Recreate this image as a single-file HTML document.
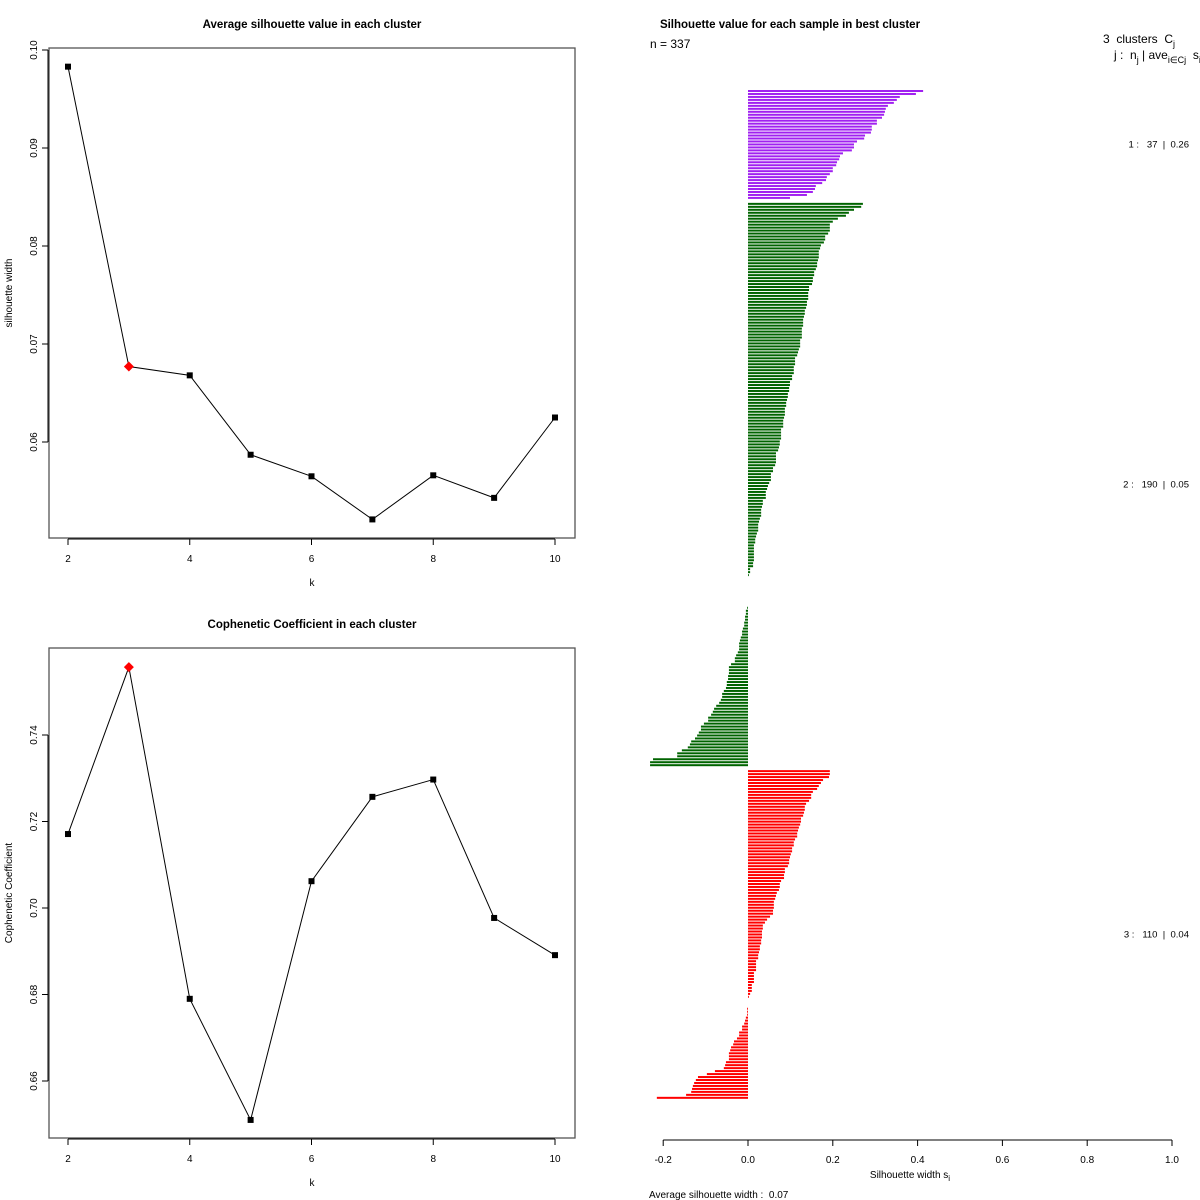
<!DOCTYPE html>
<html><head><meta charset="utf-8"><style>
html,body{margin:0;padding:0;background:#fff;}
svg{display:block;font-family:"Liberation Sans",sans-serif;}
text{white-space:pre;}
</style></head><body>
<svg id="chart" width="1200" height="1200" viewBox="0 0 1200 1200" xmlns="http://www.w3.org/2000/svg">
<rect width="1200" height="1200" fill="#fff"/>
</svg>
<script>
const ks = [2,3,4,5,6,7,8,9,10];
const silValues = [0.0983,0.0677,0.0668,0.0587,0.0565,0.0521,0.0566,0.0543,0.0625];
const silTicks = [0.06,0.07,0.08,0.09,0.10];
const silTickLabels = ["0.06","0.07","0.08","0.09","0.10"];
const cophValues = [0.7171,0.7557,0.6790,0.6510,0.7062,0.7257,0.7297,0.6977,0.6891];
const cophTicks = [0.66,0.68,0.70,0.72,0.74];
const cophTickLabels = ["0.66","0.68","0.70","0.72","0.74"];
const kTicks = [2,4,6,8,10];
const bestK = 3;
const cluster1 = [.413,.396,.358,.351,.344,.330,.325,.323,.321,.316,.304,.304,.292,.292,.290,.276,.274,.257,.250,.250,.245,.224,.217,.215,.210,.208,.200,.200,.193,.186,.184,.175,.160,.158,.153,.139,.099];
const cluster2 = [.271,.267,.250,.238,.231,.212,.200,.193,.193,.193,.189,.182,.182,.179,.172,.170,.167,.167,.167,.165,.163,.163,.160,.156,.156,.153,.153,.151,.144,.144,.142,.142,.142,.139,.139,.137,.134,.134,.132,.130,.130,.130,.127,.127,.127,.127,.123,.123,.123,.120,.118,.116,.111,.111,.111,.108,.108,.108,.104,.104,
.099,.099,.097,.097,.094,.094,.092,.090,.090,.087,.087,.087,.085,.083,.083,.083,.078,.078,.078,.078,.075,.075,.073,.071,.066,.066,.066,.066,.064,.059,.059,.054,.054,.054,.050,.047,.045,.042,.042,.042,.035,.035,.033,.031,.031,.031,.028,.026,.024,.024,.024,.021,.019,.017,.017,.014,.014,.014,.014,.014,.014,.012,.012,.005,.005,.002,
0,0,0,0,0,0,0,0,0,0,
-.002,-.005,-.005,-.007,-.007,-.009,-.009,-.012,-.014,-.014,-.017,-.019,-.021,-.021,-.021,-.024,-.028,-.031,-.031,-.040,-.045,-.045,-.045,-.047,-.047,-.050,-.050,-.052,-.057,-.061,-.061,-.064,-.068,-.075,-.080,-.083,-.087,-.094,-.094,-.104,-.111,-.111,-.116,-.120,-.125,-.134,-.137,-.142,-.156,-.167,-.167,-.224,-.231,-.231];
const cluster3 = [.193,.193,.191,.177,.172,.167,.163,.153,.149,.149,.144,.137,.134,.134,.132,.130,.125,.125,.123,.120,.118,.116,.116,.111,.108,.108,.104,.104,.101,.099,.097,.097,.094,.087,.087,.085,.085,.078,.075,.075,.073,.068,.066,.064,.061,.061,.061,.059,.059,.052,.045,.040,.035,.035,.033,.033,.033,.031,.031,.028,.028,.026,.024,.024,.019,.019,.019,.019,.014,.014,.014,.014,.009,.009,.009,.005,.002,
0,0,0,
-.002,-.002,-.002,-.005,-.007,-.009,-.014,-.014,-.021,-.021,-.026,-.033,-.035,-.040,-.042,-.045,-.045,-.045,-.052,-.054,-.057,-.078,-.097,-.118,-.123,-.127,-.130,-.132,-.134,-.146,-.215];
const clusterColors = ["#a020f0","#006400","#ff0000"];
const clusterAvgLabels = ["1 :   37  |  0.26","2 :   190  |  0.05","3 :   110  |  0.04"];
const silXTicks = [-0.2,0,0.2,0.4,0.6,0.8,1.0];
const silXTickLabels = ["-0.2","0.0","0.2","0.4","0.6","0.8","1.0"];

const svg = document.getElementById('chart');
const NS = "http://www.w3.org/2000/svg";
function mk(tag, attrs, parent){ const e=document.createElementNS(NS,tag); for(const k in attrs) e.setAttribute(k,attrs[k]); (parent||svg).appendChild(e); return e; }
function txt(s, attrs, parent){ const e=mk('text',attrs,parent); e.textContent=s; return e; }

function linePanel(name, top, values, ticks, tickLabels, yScale, title, ylab){
  const g = mk('g',{});
  
  
  const xS = k => 68 + (k-2)*60.875;
  const bottom = top + 490;
  const box = mk('rect',{x:49,y:top,width:526,height:490,fill:'none',stroke:'#555','stroke-width':1.3},g);
  
  
  const t = txt(title,{x:312,y:top-20,'text-anchor':'middle','font-size':11.5,'font-weight':'bold'},g);
  
  
  mk('line',{x1:xS(2),x2:xS(10),y1:bottom+1,y2:bottom+1,stroke:'#000'},g);
  kTicks.forEach(k=>{
    mk('line',{x1:xS(k),x2:xS(k),y1:bottom+1,y2:bottom+7,stroke:'#000'},g);
    const l = txt(String(k),{x:xS(k),y:bottom+24,'text-anchor':'middle','font-size':10},g);
    
    
  });
  const xl = txt('k',{x:312,y:bottom+48,'text-anchor':'middle','font-size':10},g);
  
  
  mk('line',{x1:48,x2:48,y1:yScale(ticks[0]),y2:yScale(ticks[ticks.length-1]),stroke:'#000'},g);
  ticks.forEach((v,i)=>{
    const y=yScale(v);
    mk('line',{x1:42,x2:48,y1:y,y2:y,stroke:'#000'},g);
    const l = txt(tickLabels[i],{x:37,y:y,'text-anchor':'middle','font-size':10,transform:`rotate(-90 37 ${y})`},g);
    
    
  });
  const yl = txt(ylab,{x:12,y:top+245,'text-anchor':'middle','font-size':10,transform:`rotate(-90 12 ${top+245})`},g);
  
  
  const pts = values.map((v,i)=>`${xS(ks[i])},${yScale(v)}`).join(' ');
  const pl = mk('polyline',{points:pts,fill:'none',stroke:'#000','stroke-width':1},g);
  
  
  values.forEach((v,i)=>{
    const x=xS(ks[i]), y=yScale(v);
    let p;
    if(ks[i]===bestK){
      p = mk('polygon',{points:`${x},${y-5} ${x+5},${y} ${x},${y+5} ${x-5},${y}`,fill:'#ff0000'},g);
      
    } else {
      p = mk('rect',{x:x-3,y:y-3,width:6,height:6,fill:'#000'},g);
      
    }
    
  });
}
linePanel('silhouette-panel', 48, silValues, silTicks, silTickLabels, v=>442-(v-0.06)*9800, 'Average silhouette value in each cluster', 'silhouette width');
linePanel('cophenetic-panel', 648, cophValues, cophTicks, cophTickLabels, v=>735-(v-0.74)*4325, 'Cophenetic Coefficient in each cluster', 'Cophenetic Coefficient');

const sg = mk('g',{});


const sx = v => 748 + v*424;
const pitch = 2.97;
let slot = 0;
[cluster1,cluster2,cluster3].forEach((arr,ci)=>{
  const startSlot = slot;
  arr.forEach(v=>{
    const y = 90 + slot*pitch;
    const x0 = Math.min(sx(0),sx(v)), w = Math.abs(sx(v)-sx(0));
    if(w>0){
      const r = mk('rect',{x:x0,y:y,width:w,height:2,fill:clusterColors[ci]},sg);
      
      
    }
    slot++;
  });
  const midY = 90 + ((startSlot+slot-1)/2)*pitch + 4;
  const l = txt(clusterAvgLabels[ci],{x:1189,y:midY,'text-anchor':'end','font-size':9.5},sg);
  
  
  slot += 1;
});
mk('line',{x1:sx(-0.2),x2:sx(1.0),y1:1140,y2:1140,stroke:'#000'},sg);
silXTicks.forEach((v,i)=>{
  mk('line',{x1:sx(v),x2:sx(v),y1:1140,y2:1146,stroke:'#000'},sg);
  const l = txt(silXTickLabels[i],{x:sx(v),y:1163,'text-anchor':'middle','font-size':10},sg);
  
  
});
</script>
<svg style="position:absolute;left:0;top:0" width="1200" height="1200">
<text x="790" y="28" text-anchor="middle" font-size="11.5" font-weight="bold">Silhouette value for each sample in best cluster</text>
<text x="650" y="48" font-size="12">n = 337</text>
<text x="1103" y="43" font-size="12">3  clusters  C<tspan font-size="9" dy="4">j</tspan></text>
<text x="1114" y="59" font-size="12">j :  n<tspan font-size="9" dy="4">j</tspan><tspan dy="-4"> | ave</tspan><tspan font-size="9" dy="4">i∈Cj</tspan><tspan dy="-4">  s</tspan><tspan font-size="9" dy="4">i</tspan></text>
<text x="910" y="1178" text-anchor="middle" font-size="10">Silhouette width s<tspan font-size="8" dy="3">i</tspan></text>
<text x="649" y="1198" font-size="10">Average silhouette width :  0.07</text>
</svg>
</body></html>
